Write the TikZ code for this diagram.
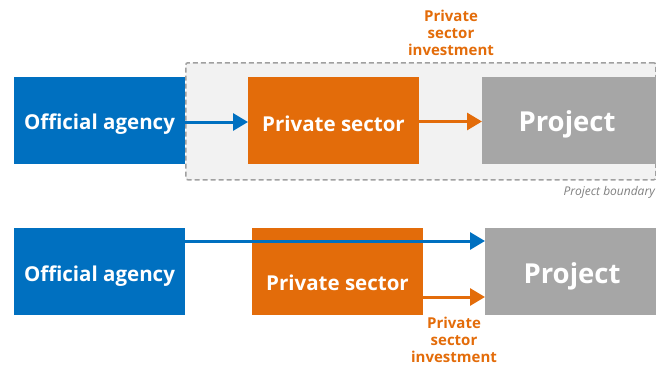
\documentclass[tikz,border=0pt]{standalone}
\usepackage{fontspec}
\setmainfont{Open Sans}
\usetikzlibrary{arrows.meta}
\definecolor{oblue}{HTML}{0070C0}
\definecolor{oorange}{HTML}{E36C0A}
\definecolor{ogray}{HTML}{A6A6A6}
\definecolor{bgray}{HTML}{F2F2F2}
\definecolor{dgray}{HTML}{A0A0A0}
\definecolor{tgray}{HTML}{7F7F7F}
\begin{document}
\begin{tikzpicture}[x=1pt,y=-1pt,
  box/.style={anchor=north west, inner sep=0pt, outer sep=0pt, minimum height=87pt},
  bluebox/.style={box, fill=oblue, minimum width=171pt},
  orangebox/.style={box, fill=oorange, minimum width=171pt},
  graybox/.style={box, fill=ogray, minimum width=174pt},
  boxtext/.style={text=white, inner sep=0pt, font=\bfseries\fontsize{20.5}{22}\selectfont},
  bigtext/.style={text=white, inner sep=0pt, font=\bfseries\fontsize{27.5}{30}\selectfont},
  invlabel/.style={text=oorange, align=center, inner sep=0pt, font=\bfseries\fontsize{15}{17}\selectfont},
  bluearrow/.style={draw=oblue, line width=3pt, -{Triangle[length=15pt,width=17pt]}},
  orangearrow/.style={draw=oorange, line width=3pt, -{Triangle[length=15pt,width=17pt]}},
  boundarybox/.style={anchor=north west, draw=dgray, fill=bgray, line width=1.5pt, dash pattern=on 5pt off 3pt, rounded corners=2pt, inner sep=0pt, minimum width=470pt, minimum height=117pt}
]
\useasboundingbox (0,0) rectangle (656,365);
% top diagram
\node[boundarybox] (boundary) at (185,62) {};
\node[bluebox] (oa1) at (14,77) {};
\node[orangebox] (ps1) at (248,77) {};
\node[graybox] (pr1) at (482,77) {};
\node[boxtext] (oa1t) at ([yshift=-3.5pt]oa1.center) {Official agency};
\node[boxtext] (ps1t) at ([yshift=-3.5pt]ps1.center) {Private sector};
\node[bigtext] (pr1t) at ([xshift=-2pt,yshift=-3.5pt]pr1.center) {Project};
\draw[bluearrow] ([yshift=-1.5pt]oa1.east) -- ([yshift=-1.5pt]ps1.west);
\draw[orangearrow] ([yshift=-1pt]ps1.east) -- ([yshift=-1pt]pr1.west);
\node[invlabel] (inv1) at (451,33) {Private\\sector\\investment};
\node[anchor=east, inner sep=0pt, text=tgray, font=\itshape\fontsize{12}{14}\selectfont] (pb) at (655,192) {Project boundary};
% bottom diagram
\node[bluebox] (oa2) at (14,228) {};
\node[orangebox] (ps2) at (252,228) {};
\node[graybox] (pr2) at (485,228) {};
\node[boxtext] (oa2t) at ([yshift=-5pt]oa2.center) {Official agency};
\node[boxtext] (ps2t) at ([yshift=-11.5pt]ps2.center) {Private sector};
\node[bigtext] (pr2t) at ([yshift=-5pt]pr2.center) {Project};
\draw[bluearrow] ([yshift=30.5pt]oa2.east) -- ([yshift=30.5pt]pr2.west);
\draw[orangearrow] ([yshift=-25.5pt]ps2.east) -- ([yshift=-25.5pt]pr2.west);
\node[invlabel] (inv2) at (454,340) {Private\\sector\\investment};
\end{tikzpicture}
\end{document}
